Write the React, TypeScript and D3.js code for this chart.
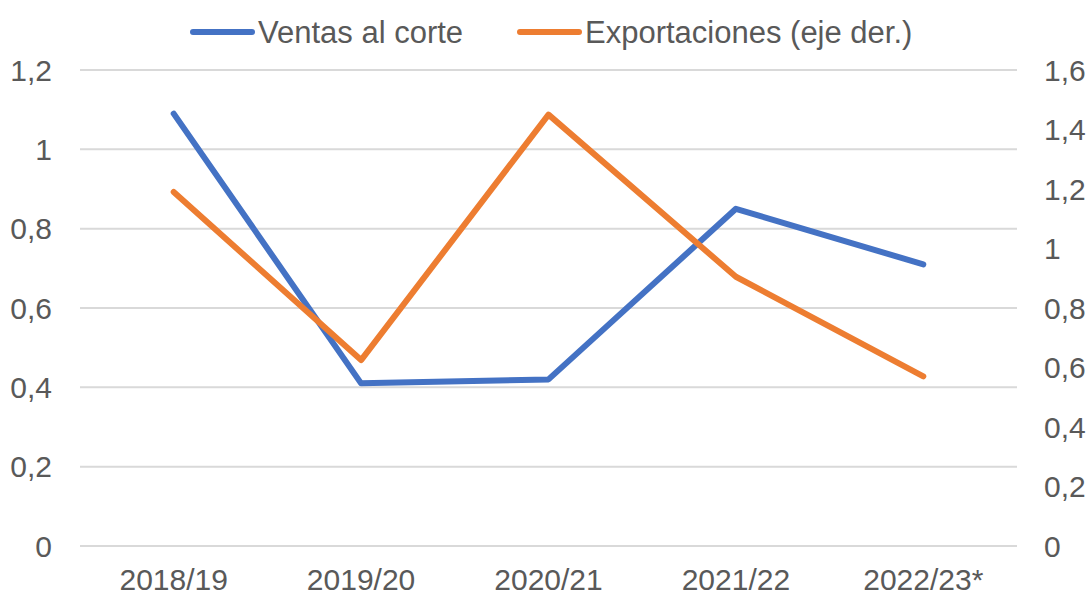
import React from "react";
import * as d3 from "d3";

const categories = ["2018/19", "2019/20", "2020/21", "2021/22", "2022/23*"];
const ventas = [1.09, 0.41, 0.42, 0.85, 0.71];
const exportaciones = [1.19, 0.625, 1.45, 0.905, 0.57];
const seriesNames = ["Ventas al corte", "Exportaciones (eje der.)"];

const W = 1090;
const H = 597;
const BLUE = "#4472C4";
const ORANGE = "#ED7D31";
const TEXT = "#595959";
const FONT = "'Liberation Sans', Arial, sans-serif";

const locale = d3.formatLocale({ decimal: ",", thousands: ".", grouping: [3], currency: ["", "€"] });
const fmt = locale.format(".1~f");

const App = () => {
    const x = d3.scalePoint<string>().domain(categories).range([80, 1017]).padding(0.5);
    const yL = d3.scaleLinear().domain([0, 1.2]).range([546, 70]);
    const yR = d3.scaleLinear().domain([0, 1.6]).range([546, 70]);

    const lineL = d3
        .line<number>()
        .x((d, i) => x(categories[i]) as number)
        .y(d => yL(d));
    const lineR = d3
        .line<number>()
        .x((d, i) => x(categories[i]) as number)
        .y(d => yR(d));

    return (
        <svg
            width={W}
            height={H}
            style={{ position: "absolute", left: 0, top: 0, background: "#fff" }}
            fontFamily={FONT}
        >
            {/* gridlines + left axis */}
            {yL.ticks(6).map(t => (
                <g key={"l" + t}>
                    <line x1={80} x2={1017} y1={yL(t)} y2={yL(t)} stroke="#d9d9d9" strokeWidth={2} />
                    <text x={52} y={yL(t)} dy="0.36em" textAnchor="end" fontSize={30} fill={TEXT}>
                        {fmt(t)}
                    </text>
                </g>
            ))}
            {/* right axis */}
            {yR.ticks(8).map(t => (
                <text key={"r" + t} x={1044} y={yR(t)} dy="0.36em" textAnchor="start" fontSize={30} fill={TEXT}>
                    {fmt(t)}
                </text>
            ))}
            {/* x axis labels */}
            {categories.map(c => (
                <text key={c} x={x(c)} y={590} textAnchor="middle" fontSize={30} fill={TEXT}>
                    {c}
                </text>
            ))}
            {/* lines */}
            <path d={lineL(ventas) || ""} fill="none" stroke={BLUE} strokeWidth={6} strokeLinejoin="round" strokeLinecap="round" />
            <path d={lineR(exportaciones) || ""} fill="none" stroke={ORANGE} strokeWidth={6} strokeLinejoin="round" strokeLinecap="round" />
            {/* legend */}
            <g>
                <line x1={193} x2={252} y1={32} y2={32} stroke={BLUE} strokeWidth={6} strokeLinecap="round" />
                <text x={258} y={32} dy="0.36em" fontSize={31} fill={TEXT}>
                    {seriesNames[0]}
                </text>
                <line x1={520} x2={579} y1={32} y2={32} stroke={ORANGE} strokeWidth={6} strokeLinecap="round" />
                <text x={585} y={32} dy="0.36em" fontSize={31} fill={TEXT}>
                    {seriesNames[1]}
                </text>
            </g>
        </svg>
    );
};

export default App;
